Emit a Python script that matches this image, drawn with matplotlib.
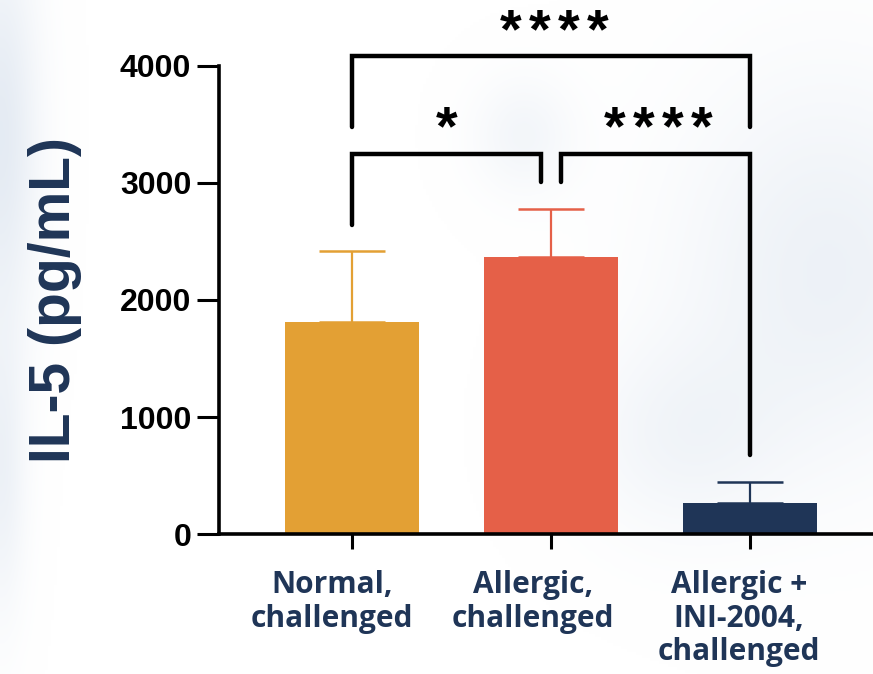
import numpy as np
import matplotlib.pyplot as plt
from matplotlib.colors import LinearSegmentedColormap
from matplotlib.transforms import ScaledTranslation, blended_transform_factory

# IL-5 levels per group (mean and upper SD)
groups = ["Normal,\nchallenged", "Allergic,\nchallenged", "Allergic +\nINI-2004,\nchallenged"]
il5_mean = [1812, 2368, 265]
il5_sd = [607, 410, 179]
bar_colors = ["#E3A034", "#E56048", "#1F3557"]

# significance brackets: (left group, right group, height, left leg end, right leg end)
brackets = [
    (0, 2, 4085, 3480, 3480),
    (0, 0.95, 3248, 2641, 3009),
    (1.05, 2, 3248, 3009, 675),
]
# star labels: (x centre, baseline, text)
stars = [(1.015, 4162, "****"), (0.477, 3333, "*"), (1.538, 3333, "****")]

navy = "#1F3557"

fig = plt.figure(figsize=(8.73, 6.74), dpi=100)

# soft pale-blue haze behind the chart
bg = fig.add_axes([0, 0, 1, 1], zorder=-1)
gx, gy = np.meshgrid(np.linspace(0, 1, 300), np.linspace(0, 1, 230))
haze = np.zeros_like(gx)
for cx, cy, sx, sy, amp in [(0.0, 0.8, 0.03, 0.2, 0.9), (0.0, 0.3, 0.02, 0.15, 0.6),
                            (0.95, 0.6, 0.12, 0.2, 0.6), (0.6, 0.8, 0.04, 0.06, 0.4),
                            (0.78, 0.35, 0.08, 0.1, 0.4)]:
    haze += amp * np.exp(-((gx - cx) ** 2 / (2 * sx ** 2) + (gy - cy) ** 2 / (2 * sy ** 2)))
haze_cmap = LinearSegmentedColormap.from_list("haze", ["#ffffff", "#e2e9f2"])
bg.imshow(haze, cmap=haze_cmap, vmin=0, vmax=1, origin="lower",
          extent=[0, 1, 0, 1], aspect="auto", interpolation="bilinear")
bg.axis("off")

ax = fig.add_axes([0.2509, 0.2077, 0.7491, 0.6944])
ax.patch.set_alpha(0)

x = list(range(len(groups)))
ax.bar(x, il5_mean, width=0.67, color=bar_colors, zorder=2)
for xi, m, s, c in zip(x, il5_mean, il5_sd, bar_colors):
    ax.errorbar(xi, m, yerr=[[0], [s]], color=c, elinewidth=1.6,
                capsize=23.5, capthick=1.8, zorder=1)

for x0, x1, h, l0, l1 in brackets:
    ax.plot([x0, x0, x1, x1], [l0, h, h, l1], color="black", lw=3.2,
            solid_capstyle="round", solid_joinstyle="miter", clip_on=False)

# asterisks are spaced out a bit wider than the font's own advance
pitch = 21  # points
for sx, sy, st in stars:
    n = len(st)
    for i, ch in enumerate(st):
        dx = (i - (n - 1) / 2) * pitch
        t = ax.text(sx, sy, ch, ha="center", va="baseline", fontsize=40,
                    fontweight="bold", family="Liberation Sans", clip_on=False)
        t.set_transform(ax.transData + ScaledTranslation(dx / 72, 0, fig.dpi_scale_trans))

ax.set_xlim(-0.668, 2.618)
ax.set_ylim(0, 4000)
ax.set_yticks([0, 1000, 2000, 3000, 4000])
ax.set_xticks(x)
ax.set_xticklabels([])

# group names sit a little left of their ticks
blend = blended_transform_factory(ax.transData, ax.transAxes)
for xi, name, dx in zip(x, groups, [-20, -18, -11]):
    ax.text(xi, 0, name, ha="center", va="top", multialignment="center",
            family="Open Sans", fontweight="bold", fontsize=21.5, color=navy,
            linespacing=1.16,
            transform=blend + ScaledTranslation(dx / 100, -0.36, fig.dpi_scale_trans))

for lab in ax.get_yticklabels():
    lab.set_family("Liberation Sans")
    lab.set_fontweight("bold")
    lab.set_fontsize(23)

ax.tick_params(axis="y", length=16, width=2.2, pad=4)
ax.tick_params(axis="x", length=10.5, width=2.2)
for side in ["top", "right"]:
    ax.spines[side].set_visible(False)
for side in ["left", "bottom"]:
    ax.spines[side].set_linewidth(2.6)

ax.set_ylabel("IL-5 (pg/mL)", family="Liberation Sans", fontweight="bold",
              fontsize=41, color=navy, labelpad=27)

fig.savefig("out.png", dpi=100, facecolor="white")
